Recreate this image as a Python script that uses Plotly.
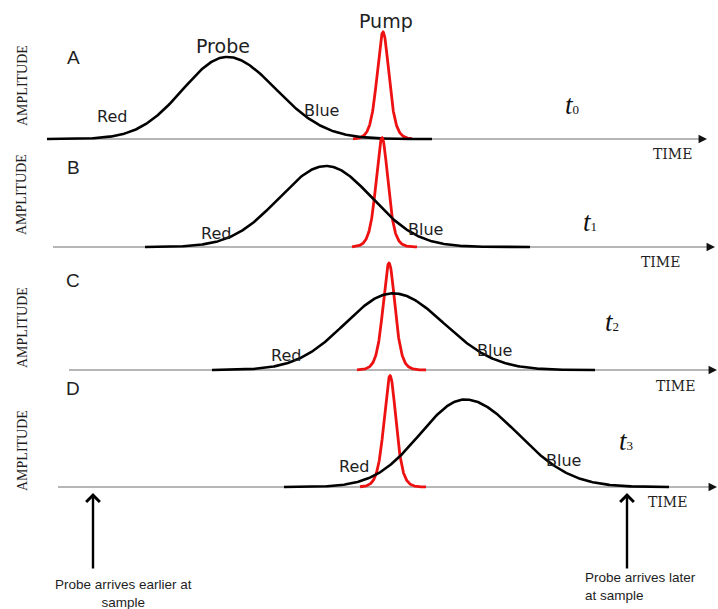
import numpy as np
import plotly.graph_objects as go

# ---------------- data (time in arbitrary units, amplitude normalised) ----------------
panels = ["A", "B", "C", "D"]
delay_index = ["0", "1", "2", "3"]

probe_center = [227, 326, 393, 465]
probe_amp = [0.76, 0.75, 0.71, 0.81]
probe_sigma_red = [44, 47, 48, 45]
probe_sigma_blue = [49, 46, 51, 53]
probe_start = [47, 145, 212, 284]
probe_end = [432, 530, 595, 669]

pump_center = [383, 382, 389, 390]
pump_amp = [0.99, 1.01, 0.99, 1.03]
pump_tau = [8, 8, 8, 8]
pump_start = [353, 352, 357, 360]
pump_end = [412, 417, 426, 426]

axis_start = [47, 53, 69, 58]
axis_end = [707, 715, 717, 717]

# ---------------- layout constants ----------------
W, H = 718, 609
S = 108.0                       # pixels per amplitude unit
baseline_px = [139, 247, 370, 487]
PAD_BELOW, PAD_ABOVE = 22, 122


def P(px, py):
    return px / W, 1 - py / H


fig = go.Figure()
layout_axes = {}

for i in range(4):
    yid = "y" if i == 0 else f"y{i + 1}"
    ykey = "yaxis" if i == 0 else f"yaxis{i + 1}"
    b = baseline_px[i]
    layout_axes[ykey] = dict(
        domain=[1 - (b + PAD_BELOW) / H, 1 - (b - PAD_ABOVE) / H],
        range=[-PAD_BELOW / S, PAD_ABOVE / S],
        visible=False, anchor="x", fixedrange=True,
    )

    # time axis line
    fig.add_shape(type="line", xref="x", yref=yid, x0=axis_start[i], x1=axis_end[i] - 5,
                  y0=0, y1=0, line=dict(color="#6e6e6e", width=1.2), layer="below")
    fig.add_annotation(x=axis_end[i], y=0, xref="x", yref=yid, ax=-9, ay=0,
                       axref="pixel", ayref="pixel", showarrow=True, arrowhead=2,
                       arrowsize=1.3, arrowwidth=1.3, arrowcolor="#111111", text="")

    # pump pulse (red)
    tp = np.linspace(pump_start[i], pump_end[i], 240)
    yp = pump_amp[i] / np.cosh((tp - pump_center[i]) / pump_tau[i]) ** 2
    fig.add_trace(go.Scatter(x=tp, y=yp, xaxis="x", yaxis=yid, mode="lines",
                             line=dict(color="#ee1111", width=2.8), hoverinfo="skip",
                             showlegend=False))

    # probe pulse (black)
    tq = np.linspace(probe_start[i], probe_end[i], 400)
    sig = np.where(tq < probe_center[i], probe_sigma_red[i], probe_sigma_blue[i])
    yq = probe_amp[i] * np.exp(-((tq - probe_center[i]) ** 2) / (2 * sig ** 2))
    fig.add_trace(go.Scatter(x=tq, y=yq, xaxis="x", yaxis=yid, mode="lines",
                             line=dict(color="#000000", width=2.6), hoverinfo="skip",
                             showlegend=False))

# ---------------- text ----------------
sans = "DejaVu Sans"
txtc = "#1e1e1e"


def label(text, px, py, size, family=sans, angle=0, xanchor="center", align="center", color=txtc):
    x, y = P(px, py)
    fig.add_annotation(x=x, y=y, xref="paper", yref="paper", text=text, showarrow=False,
                       xanchor=xanchor, yanchor="middle", align=align, textangle=angle,
                       font=dict(family=family, size=size, color=color))


letter_pos = [(73, 57), (73, 167), (73, 280), (73, 388)]
amp_pos = [(22, 86), (22, 195), (22, 328), (22, 451)]
time_pos = [(672, 154), (660, 262), (675, 386), (667, 502)]
t_pos = [(572, 105), (590, 222), (612, 322), (626, 441)]
red_pos = [(112, 116), (216, 234), (286, 356), (354, 466)]
blue_pos = [(321, 110), (425, 229), (494, 350), (563, 460)]

for i in range(4):
    label(panels[i], *letter_pos[i], 19, family="Liberation Sans")
    label("AMPLITUDE", *amp_pos[i], 14, family="Liberation Serif", angle=-90)
    label("TIME", *time_pos[i], 14, family="DejaVu Serif")
    label(f"<i>t</i><span style='font-size:13px'>{delay_index[i]}</span>", *t_pos[i], 27,
          family="Liberation Serif", color="#111111")
    label("Red", *red_pos[i], 16)
    label("Blue", *blue_pos[i], 16)

label("Probe", 223, 46, 19)
label("Pump", 386, 21, 19)

# bottom arrows and captions
for ax_px in (93, 627):
    x, y = P(ax_px, 493)
    fig.add_annotation(x=x, y=y, xref="paper", yref="paper", ax=0, ay=77,
                       axref="pixel", ayref="pixel", showarrow=True, arrowhead=4,
                       arrowsize=1.1, arrowwidth=2.4, arrowcolor="#000000", text="")

label("Probe arrives earlier at<br>sample", 123, 593, 13.5, family="Liberation Sans")
label("Probe arrives later<br>at sample", 583, 586, 13.5, family="Liberation Sans",
      xanchor="left", align="left")

fig.update_layout(
    width=W, height=H,
    margin=dict(l=0, r=0, t=0, b=0),
    paper_bgcolor="white", plot_bgcolor="rgba(0,0,0,0)",
    xaxis=dict(range=[0, W], visible=False, domain=[0, 1], fixedrange=True),
    showlegend=False,
    **layout_axes,
)

fig.write_html("out.html", config={"displayModeBar": False},
               post_script="document.body.style.margin='0px';")
